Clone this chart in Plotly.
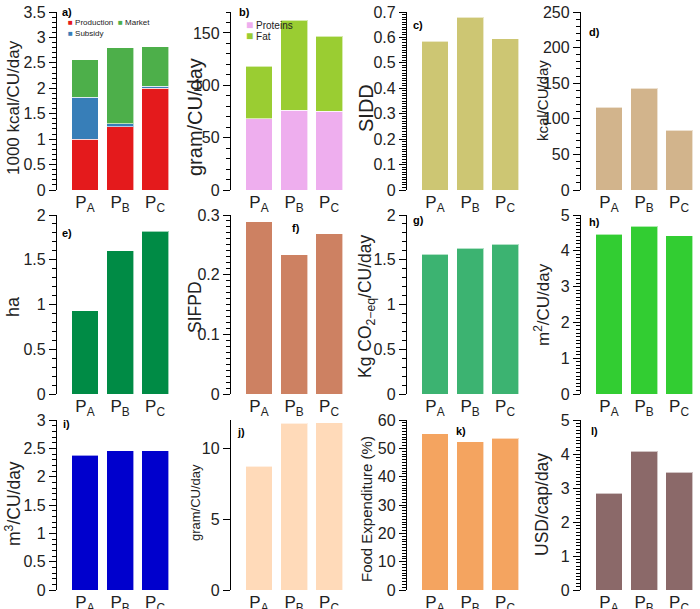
import plotly.graph_objects as go

# scenarios on the x axis of every panel
scenarios = ["P<sub>A</sub>", "P<sub>B</sub>", "P<sub>C</sub>"]

# a) energy by source (1000 kcal/CU/day)
production = [1.0, 1.24, 2.0]
subsidy = [0.82, 0.06, 0.04]
market = [0.74, 1.50, 0.78]
# b) proteins and fat (gram/CU/day)
proteins = [68, 76, 75]
fat = [50, 86, 72]
# c) - l) single series
sidd = [0.585, 0.68, 0.595]
kcal = [116, 143, 84]
land_ha = [0.93, 1.60, 1.82]
sifpd = [0.289, 0.233, 0.269]
co2 = [1.56, 1.63, 1.675]
area_m2 = [4.46, 4.69, 4.42]
water_m3 = [2.38, 2.46, 2.455]
gram_j = [8.75, 11.76, 11.8]
food_exp = [55.2, 52.4, 53.6]
usd = [2.84, 4.08, 3.47]

W, H = 700, 609
FONT = "Liberation Sans, Arial, sans-serif"
col_left = [57, 231, 407, 581]
plot_w = 118
rows_px = [(12, 190), (215, 394), (420, 590)]
title_x = [13, 195, 366, 542]


def fx(p):
    return p / W


def fy(p):
    return 1 - p / H


panels = [
    dict(tag="a)", tag_pos=(67, 12), rng=3.5, dtick=0.5, minor=0.1,
         title="1000 kcal/CU/day", tsize=17, ty=108,
         series=[("Production", production, "#e41a1c"),
                 ("Subsidy", subsidy, "#377eb8"),
                 ("Market", market, "#4daf4a")]),
    dict(tag="b)", tag_pos=(244, 12), rng=170, dtick=50, minor=10,
         title="gram/CU/day", tsize=20, ty=117,
         series=[("Proteins", proteins, "#eeaeee"), ("Fat", fat, "#9acd32")]),
    dict(tag="c)", tag_pos=(418, 25), rng=0.7, dtick=0.1, minor=0.01,
         title="SIDD", tsize=20, ty=108, series=[("SIDD", sidd, "#cdc673")]),
    dict(tag="d)", tag_pos=(594, 32), rng=250, dtick=50, minor=10,
         title="kcal/CU/day", tsize=15, ty=101, series=[("kcal", kcal, "#d2b48c")]),
    dict(tag="e)", tag_pos=(67, 233), rng=2, dtick=0.5, minor=0.1,
         title="ha", tsize=18, ty=307, series=[("ha", land_ha, "#008b45")]),
    dict(tag="f)", tag_pos=(296, 228), rng=0.3, dtick=0.1, minor=0.01,
         title="SIFPD", tsize=17.5, ty=307, series=[("SIFPD", sifpd, "#cd8162")]),
    dict(tag="g)", tag_pos=(418, 220), rng=2, dtick=0.5, minor=0.1,
         title="Kg CO<sub>2\u2212eq</sub>/CU/day", tsize=17.5, ty=306,
         series=[("CO2", co2, "#3cb371")]),
    dict(tag="h)", tag_pos=(594, 222), rng=5, dtick=1, minor=0.1,
         title="m<sup>2</sup>/CU/day", tsize=17, ty=305,
         series=[("m2", area_m2, "#32cd32")]),
    dict(tag="i)", tag_pos=(66, 424), rng=3, dtick=0.5, minor=0.1,
         title="m<sup>3</sup>/CU/day", tsize=17.5, ty=504,
         series=[("m3", water_m3, "#0000cd")]),
    dict(tag="j)", tag_pos=(241, 432), rng=12, dtick=5, minor=None,
         title="gram/CU/day", tsize=13, ty=503,
         series=[("gram", gram_j, "#ffdab9")]),
    dict(tag="k)", tag_pos=(461, 431), rng=60, dtick=10, minor=1,
         title="Food Expenditure (%)", tsize=15, ty=509,
         series=[("food", food_exp, "#f4a460")]),
    dict(tag="l)", tag_pos=(594, 431), rng=5, dtick=1, minor=0.1,
         title="USD/cap/day", tsize=17.5, ty=505,
         series=[("usd", usd, "#8b6969")]),
]

fig = go.Figure()
annotations = []

for i, p in enumerate(panels):
    n = i + 1
    r, c = divmod(i, 4)
    sfx = "" if n == 1 else str(n)
    top, bot = rows_px[r]

    for name, vals, color in p["series"]:
        fig.add_trace(go.Bar(
            x=scenarios, y=vals, name=name, width=0.77,
            marker=dict(color=color, line=dict(color="rgba(255,255,255,0.6)", width=1)),
            xaxis="x" + sfx, yaxis="y" + sfx, showlegend=False,
        ))

    fig.layout["xaxis" + sfx] = dict(
        domain=[fx(col_left[c]), fx(col_left[c] + plot_w)], anchor="y" + sfx,
        type="category", range=[-0.8, 2.57], showline=False, showgrid=False,
        zeroline=False, ticks="", automargin=False,
        tickfont=dict(size=17, color="#222"),
    )
    yax = dict(
        domain=[fy(bot), fy(top)], anchor="x" + sfx, range=[0, p["rng"]],
        dtick=p["dtick"], tick0=0, showline=True, linecolor="black", linewidth=1.3,
        ticks="outside", ticklen=7, tickcolor="black", tickwidth=1.2,
        showgrid=False, zeroline=False, automargin=False,
        tickfont=dict(size=16, color="#222"),
    )
    if p["minor"]:
        yax["minor"] = dict(dtick=p["minor"], ticks="outside", ticklen=3.5,
                            tickcolor="black", tickwidth=1, showgrid=False)
    fig.layout["yaxis" + sfx] = yax

    # axis title
    annotations.append(dict(
        text=p["title"], x=fx(title_x[c]), y=fy(p["ty"]), xref="paper", yref="paper",
        textangle=-90, showarrow=False, xanchor="center", yanchor="middle",
        font=dict(size=p["tsize"], color="#222"),
    ))
    # panel tag
    annotations.append(dict(
        text="<b>%s</b>" % p["tag"], x=fx(p["tag_pos"][0]), y=fy(p["tag_pos"][1]),
        xref="paper", yref="paper", showarrow=False, xanchor="center", yanchor="middle",
        font=dict(size=11, color="black"),
    ))

# compact legends as text
legend_a = [("Production", "#e41a1c", 66, 23), ("Market", "#4daf4a", 116, 23),
            ("Subsidy", "#377eb8", 66, 33)]
for name, color, x, y in legend_a:
    annotations.append(dict(
        text='<span style="color:%s">\u25a0</span> %s' % (color, name),
        x=fx(x), y=fy(y), xref="paper", yref="paper", showarrow=False,
        xanchor="left", yanchor="middle", font=dict(size=8, color="#222"),
    ))
legend_b = [("Proteins", "#eeaeee", 244, 25), ("Fat", "#9acd32", 244, 36)]
for name, color, x, y in legend_b:
    annotations.append(dict(
        text='<span style="color:%s;font-size:12px">\u25a0</span> %s' % (color, name),
        x=fx(x), y=fy(y), xref="paper", yref="paper", showarrow=False,
        xanchor="left", yanchor="middle", font=dict(size=10, color="#222"),
    ))

fig.update_layout(
    width=W, height=H, barmode="stack", showlegend=False,
    margin=dict(l=0, r=0, t=0, b=0, autoexpand=False),
    paper_bgcolor="white", plot_bgcolor="white",
    font=dict(family=FONT, color="#222"),
    annotations=annotations,
)

# the page's default body margin would offset the figure by 8px
fig.write_html("out.html", config={"displayModeBar": False},
               post_script="document.body.style.margin = '0px';")
